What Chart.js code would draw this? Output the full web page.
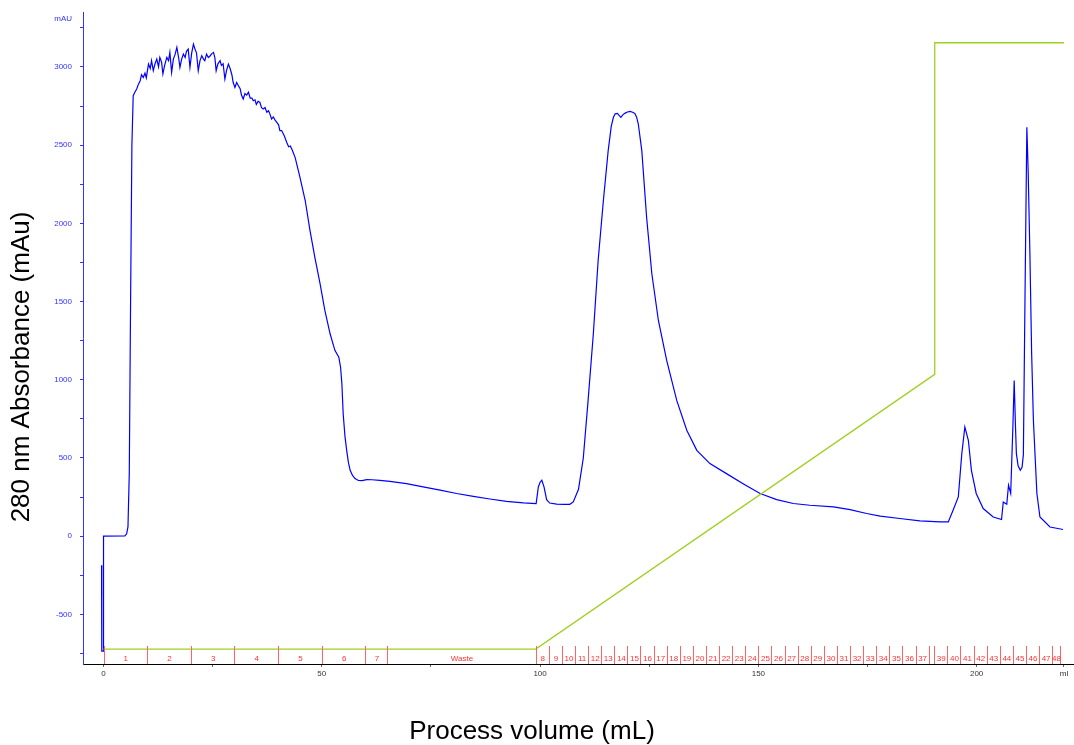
<!DOCTYPE html>
<html>
<head>
<meta charset="utf-8">
<title>280 nm Absorbance</title>
<script src="https://cdn.jsdelivr.net/npm/chart.js@4"></script>
<style>
  body { margin: 0; background: #fff; }
  #chartUv { display: block; }
</style>
</head>
<body>
<canvas id="chartUv" width="1074" height="745"></canvas>
<script>
// UV 280 nm trace (mL, mAU)
var uvVolume = [-0.45, -0.4, -0.05, 0.0, 4.9, 5.3, 5.6, 5.9, 6.2, 6.5,
    6.8, 7.2, 7.6, 8.0, 8.4, 8.7, 9.1, 9.5, 9.8, 10.3, 10.7, 11.0, 11.4, 11.8, 12.2, 12.6,
    12.9, 13.3, 13.6, 14.0, 14.5, 14.9, 15.2, 15.6, 16.0, 16.4, 16.8, 17.2, 17.5, 17.9,
    18.3, 18.7, 19.0, 19.4, 19.8, 20.2, 20.6, 21.0, 21.3, 21.7, 22.1, 22.5, 22.9, 23.2,
    23.6, 24.0, 24.4, 24.8, 25.2, 25.5, 25.8, 26.2, 26.7, 27.0, 27.4, 27.8, 28.2, 28.6,
    29.0, 29.4, 29.7, 30.1, 30.5, 30.9, 31.3, 31.6, 32.0, 32.4, 32.8, 33.2, 33.6, 34.0,
    34.3, 34.7, 35.0, 35.4, 35.8, 36.2, 36.6, 37.0, 37.4, 37.8, 38.1, 38.5, 38.9, 39.3,
    39.7, 40.1, 40.4, 40.8, 41.4, 42.0, 42.4, 42.8, 43.2, 43.9, 45.0, 46.2, 47.3, 48.4,
    49.6, 50.7, 51.9, 53.0, 53.9, 54.3, 54.6, 54.9, 55.3, 55.7, 56.1, 56.5, 57.0, 57.6,
    58.4, 59.2, 60.3, 61.5, 63.3, 65.6, 69.4, 73.2, 77.1, 80.9, 84.7, 88.5, 92.3, 96.2,
    99.1, 99.6, 100.0, 100.4, 100.9, 101.5, 102.2, 103.8, 105.5, 106.8, 107.6, 108.4,
    108.8, 109.9, 111.0, 112.2, 113.3, 114.5, 115.6, 116.3, 116.8, 117.2, 117.7, 118.1,
    118.5, 119.0, 119.4, 120.0, 120.6, 121.2, 121.7, 122.1, 122.5, 123.3, 124.4, 125.6,
    127.1, 129.0, 131.3, 133.6, 135.9, 138.9, 142.7, 146.5, 150.4, 154.2, 158.0, 161.8,
    167.2, 171.0, 174.8, 177.9, 182.4, 187.0, 191.6, 193.5, 194.6, 195.8, 196.6, 197.3,
    198.1, 198.8, 199.9, 201.5, 203.8, 205.7, 206.1, 206.9, 207.3, 207.8, 208.3, 208.6,
    208.9, 209.1, 209.5, 210.0, 210.4, 210.7, 211.1, 211.5, 211.8, 212.2, 212.6, 213.0,
    213.8, 214.5, 216.8, 219.8];
var uvAbsorbance = [-185, -735, -735, 0, 2, 15, 60, 400, 1500, 2500,
    2816, 2840, 2859, 2890, 2912, 2950, 2933, 2960, 2930, 3018, 2990, 3040, 2976, 3020, 3050, 3000,
    3061, 3030, 2955, 3010, 3061, 3040, 3093, 2965, 3050, 3080, 3125, 3060, 2997, 3050,
    3082, 3060, 3100, 3114, 2997, 3090, 3146, 3110, 3090, 2976, 3040, 3072, 3050, 3040,
    3082, 3060, 3070, 3085, 3093, 3060, 2976, 3020, 3040, 3010, 3020, 2923, 2980, 3018,
    2990, 2950, 2900, 2869, 2900, 2880, 2860, 2820, 2795, 2830, 2820, 2838, 2800, 2800,
    2784, 2790, 2760, 2780, 2774, 2740, 2731, 2740, 2710, 2720, 2700, 2667, 2680, 2660,
    2646, 2630, 2593, 2593, 2560, 2515, 2490, 2495, 2470, 2420, 2294, 2146, 1954, 1784,
    1614, 1443, 1294, 1188, 1145, 1080, 975, 783, 640, 549, 470, 421, 390, 368,
    356, 355, 362, 361, 357, 351, 336, 315, 294, 273, 255, 238, 223, 213,
    209, 315, 345, 358, 315, 234, 212, 205, 204, 204, 219, 273,
    300, 500, 868, 1294, 1762, 2146, 2465, 2620, 2678, 2700, 2703, 2690,
    2678, 2695, 2703, 2712, 2716, 2710, 2703, 2680, 2635, 2465, 2039, 1678,
    1379, 1124, 868, 677, 549, 464, 400, 336, 273, 234, 209, 198,
    187, 170, 145, 128, 113, 98, 91, 91, 166, 251, 528, 698,
    613, 421, 273, 177, 123, 107, 219, 204, 326, 273, 700, 996,
    700, 528, 450, 421, 440, 520, 1592, 2614, 2337, 1805, 1167, 741,
    273, 123, 59, 43];

// gradient (%B)
var gradVolume = [0, 99, 190.4, 190.4, 220];
var gradPercent = [0, 0, 45.3, 100, 100];

// fraction marks (mL) and their labels
var fractionEdges = [0, 10, 20, 30, 40, 50, 60, 65, 99, 102, 105, 108, 111, 114, 117, 120,
    123, 126, 129, 132, 135, 138, 141, 144, 147, 150, 153, 156, 159, 162, 165, 168, 171,
    174, 177, 180, 183, 186, 189, 190.2, 193.3, 196.3, 199.3, 202.3, 205.3, 208.3, 211.3,
    214.3, 217.3, 219];
var fractionLabels = ['1', '2', '3', '4', '5', '6', '7', 'Waste', '8', '9', '10', '11', '12',
    '13', '14', '15', '16', '17', '18', '19', '20', '21', '22', '23', '24', '25', '26', '27',
    '28', '29', '30', '31', '32', '33', '34', '35', '36', '37', '38', '39', '40', '41', '42',
    '43', '44', '45', '46', '47', '48'];

// axis ticks
var xTickValues = [0, 25, 50, 75, 100, 125, 150, 175, 200, 220];
var xTickLabels = ['0', '', '50', '', '100', '', '150', '', '200', 'ml'];
var yTickValues = [-750, -500, -250, 0, 250, 500, 750, 1000, 1250, 1500, 1750, 2000,
    2250, 2500, 2750, 3000, 3250];
var yTickLabels = ['', '-500', '', '0', '', '500', '', '1000', '', '1500', '', '2000',
    '', '2500', '', '3000', ''];

function toPoints(xs, ys) {
    var pts = [];
    for (var i = 0; i < xs.length; i++) {
        pts.push({ x: xs[i], y: ys[i] });
    }
    return pts;
}

Chart.defaults.font.family = 'Arial, "Liberation Sans", sans-serif';

// fraction marks, unit label and the two axis titles
var extrasPlugin = {
    id: 'extras',
    afterDatasetsDraw: function(chart) {
        var ctx = chart.ctx;
        var xs = chart.scales.x;
        var area = chart.chartArea;
        ctx.save();
        ctx.lineWidth = 1;
        ctx.strokeStyle = '#ff6464';
        for (var i = 0; i < fractionEdges.length; i++) {
            var px = Math.round(xs.getPixelForValue(fractionEdges[i])) + 0.5;
            ctx.beginPath();
            ctx.moveTo(px, area.bottom - 18);
            ctx.lineTo(px, area.bottom);
            ctx.stroke();
        }
        ctx.fillStyle = '#ff3030';
        ctx.font = '8px Arial, "Liberation Sans", sans-serif';
        ctx.textAlign = 'center';
        ctx.textBaseline = 'middle';
        for (var j = 0; j < fractionLabels.length; j++) {
            var a = xs.getPixelForValue(fractionEdges[j]);
            var b = xs.getPixelForValue(fractionEdges[j + 1]);
            if (b - a < 6) continue;
            ctx.fillText(fractionLabels[j], (a + b) / 2 + 0.5, area.bottom - 5);
        }
        ctx.restore();
    },
    afterDraw: function(chart) {
        var ctx = chart.ctx;
        var area = chart.chartArea;
        ctx.save();
        ctx.fillStyle = '#3333ff';
        ctx.font = '8px Arial, "Liberation Sans", sans-serif';
        ctx.textAlign = 'right';
        ctx.textBaseline = 'middle';
        ctx.fillText('mAU', area.left - 11, area.top + 6);

        ctx.fillStyle = '#000';
        ctx.font = '26px Arial, "Liberation Sans", sans-serif';
        ctx.textAlign = 'center';
        ctx.fillText('Process volume (mL)', 532, 732);
        ctx.translate(22, 367);
        ctx.rotate(-Math.PI / 2);
        ctx.fillText('280 nm Absorbance (mAu)', 0, 0);
        ctx.restore();
    }
};

var ctx = document.getElementById('chartUv');
var uvChart = new Chart(ctx, {
    type: 'line',
    data: {
        datasets: [{
            label: 'Conc B',
            data: toPoints(gradVolume, gradPercent),
            borderColor: '#9fcf1f',
            borderWidth: 1.3,
            pointRadius: 0,
            tension: 0,
            fill: false,
            yAxisID: 'y1'
        }, {
            label: 'UV 280 nm',
            data: toPoints(uvVolume, uvAbsorbance),
            borderColor: '#0000ff',
            borderWidth: 1.2,
            pointRadius: 0,
            tension: 0,
            fill: false,
            yAxisID: 'y'
        }]
    },
    options: {
        responsive: false,
        animation: false,
        layout: { padding: { top: 12, left: 0, right: 0, bottom: 0 } },
        plugins: {
            legend: { display: false },
            tooltip: { enabled: false },
            title: { display: false }
        },
        scales: {
            x: {
                type: 'linear',
                min: -4.7,
                max: 222.3,
                afterBuildTicks: function(scale) {
                    scale.ticks = xTickValues.map(function(v) { return { value: v }; });
                },
                afterFit: function(scale) { scale.height = 81; },
                ticks: {
                    autoSkip: false,
                    maxRotation: 0,
                    padding: 2,
                    color: '#333',
                    font: { size: 8 },
                    callback: function(value, index) { return xTickLabels[index]; }
                },
                grid: {
                    drawOnChartArea: false,
                    drawTicks: true,
                    tickLength: 3,
                    color: '#666'
                },
                border: { color: '#000', width: 1 }
            },
            y: {
                type: 'linear',
                position: 'left',
                min: -817,
                max: 3346,
                afterBuildTicks: function(scale) {
                    scale.ticks = yTickValues.map(function(v) { return { value: v }; });
                },
                afterFit: function(scale) { scale.width = 83; },
                ticks: {
                    autoSkip: false,
                    padding: 8,
                    color: '#3333ff',
                    font: { size: 8 },
                    callback: function(value, index) { return yTickLabels[index]; }
                },
                grid: {
                    drawOnChartArea: false,
                    drawTicks: true,
                    tickLength: 3,
                    color: '#3333ff'
                },
                border: { color: '#3333ff', width: 1 }
            },
            y1: {
                type: 'linear',
                display: false,
                min: -2.47,
                max: 104.94
            }
        }
    },
    plugins: [extrasPlugin]
});
</script>
</body>
</html>
